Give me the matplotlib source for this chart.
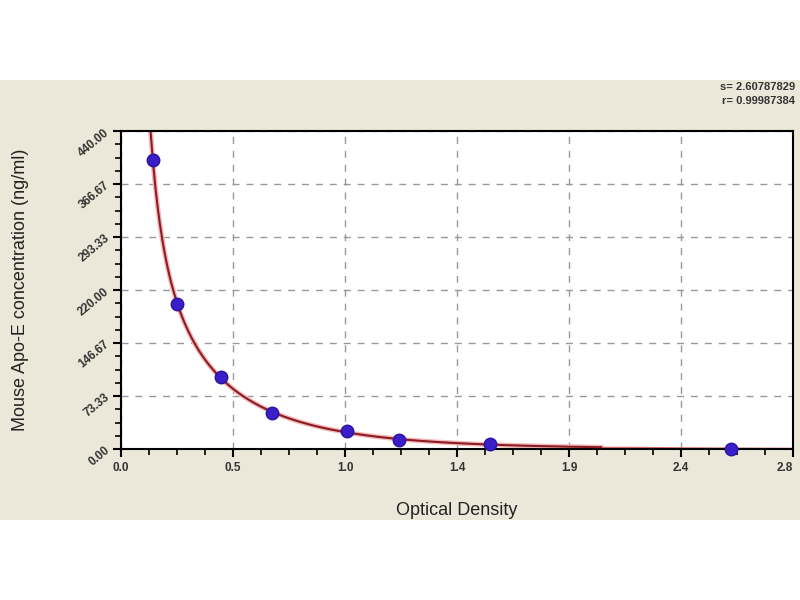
import numpy as np
import matplotlib
matplotlib.use('Agg')
import matplotlib.pyplot as plt
from matplotlib.patches import Rectangle
from matplotlib.ticker import AutoMinorLocator

plt.rcParams['font.family'] = ['Liberation Sans', 'DejaVu Sans']

# 标准曲线数据
od = [0.133, 0.233, 0.417, 0.629, 0.942, 1.158, 1.538, 2.542]
conc = [400, 200, 100, 50, 25, 12.5, 6.25, 0]

x_ticks = [0, 2.8 / 6, 2.8 * 2 / 6, 1.4, 2.8 * 4 / 6, 2.8 * 5 / 6, 2.8]
x_labels = ['0.0', '0.5', '1.0', '1.4', '1.9', '2.4', '2.8']
y_ticks = [0, 440 / 6, 440 * 2 / 6, 220, 440 * 4 / 6, 440 * 5 / 6, 440]
y_labels = ['0.00', '73.33', '146.67', '220.00', '293.33', '366.67', '440.00']

fig = plt.figure(figsize=(8, 6), dpi=100)
fig.patch.set_facecolor('white')
fig.patches.append(Rectangle((0, 1 - 520 / 600), 1, 440 / 600, transform=fig.transFigure,
                             facecolor='#ebe8d9', edgecolor='none', zorder=-10))

ax = fig.add_axes([121 / 800, 1 - 449 / 600, 672 / 800, 318 / 600])
ax.set_facecolor('white')

# 拟合曲线 (log-log 三次拟合)
xs = np.array(od[:-1])
ys = np.array(conc[:-1])
p = np.polyfit(np.log(xs), np.log(ys), 3)
xx = np.linspace(0.1, 2.0, 400)
yy = np.exp(np.polyval(p, np.log(xx)))
m = yy <= 458
ax.plot(xx[m], yy[m], color='#f4b8b8', lw=3.5, clip_on=False, zorder=2)
ax.plot(xx[m], yy[m], color='#8c1c24', lw=1.5, clip_on=False, zorder=3)
xx2 = np.linspace(2.0, 2.8, 50)
yy2 = np.clip(np.exp(np.polyval(p, np.log(xx2))), 0, 2)
ax.plot(xx2, yy2, color='#d86a6a', lw=1.2, zorder=2)

ax.plot(od, conc, 'o', color='#3a1fc8', markersize=9, markeredgecolor='#2a14a0',
        clip_on=False, zorder=4)

ax.set_xlim(0, 2.8)
ax.set_ylim(0, 440)
ax.set_xticks(x_ticks)
ax.set_xticklabels(x_labels)
ax.set_yticks(y_ticks)
ax.set_yticklabels(y_labels, rotation=40, ha='right', va='center', rotation_mode='anchor')
ax.xaxis.set_minor_locator(AutoMinorLocator(4))
ax.yaxis.set_minor_locator(AutoMinorLocator(4))
ax.tick_params(which='major', length=6, width=1.5, direction='out', labelsize=8.5,
               labelcolor='#333333')
ax.tick_params(which='minor', length=4, width=1.2, direction='out')
for lab in ax.get_xticklabels() + ax.get_yticklabels():
    lab.set_fontweight('bold')
ax.get_xticklabels()[-1].set_ha('right')
ax.grid(True, which='major', linestyle=(0, (5, 5)), color='#999999', lw=1)
for s in ax.spines.values():
    s.set_linewidth(1.5)

ax.set_xlabel('Optical Density', fontsize=13, labelpad=20, color='#222222')
ax.set_ylabel('Mouse Apo-E concentration (ng/ml)', fontsize=13, labelpad=34,
              color='#222222')

fig.text(795 / 800, 1 - 87 / 600, 's= 2.60787829', ha='right', va='center',
         fontsize=8, fontweight='bold', color='#333333')
fig.text(795 / 800, 1 - 101 / 600, 'r= 0.99987384', ha='right', va='center',
         fontsize=8, fontweight='bold', color='#333333')

fig.savefig('out.png', dpi=100)
